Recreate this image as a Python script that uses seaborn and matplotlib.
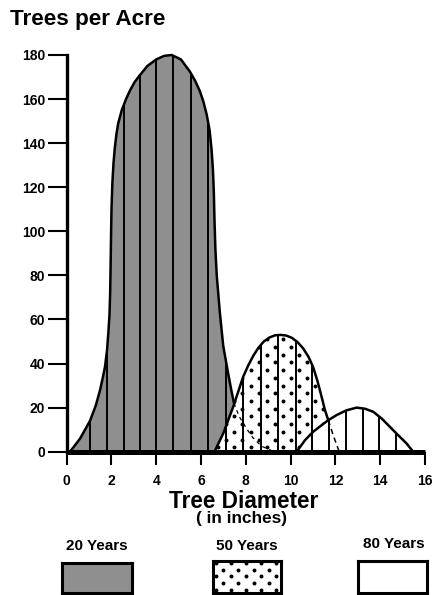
import numpy as np
import matplotlib
matplotlib.use("Agg")
import matplotlib.pyplot as plt
from matplotlib.patches import Polygon
import seaborn as sns

# ---- data ----
diam_20 = [0.15, 0.6, 1.04, 1.3, 1.49, 1.62, 1.71, 1.8, 1.86, 1.91, 1.94, 1.96, 1.98,
           2.0, 2.04, 2.09, 2.15, 2.22, 2.3, 2.46, 2.65, 2.83, 3.02, 3.24, 3.6, 4.0,
           4.35, 4.69, 5.1, 5.5, 5.75, 5.95, 6.1, 6.25, 6.38, 6.47, 6.53, 6.57, 6.6,
           6.64, 6.7, 6.84, 6.99, 7.21, 7.35, 7.47, 7.7, 8.0, 8.3, 8.7, 9.2]
trees_20 = [0, 6, 14, 21, 28, 34, 38.5, 46, 54, 62, 72, 84, 98,
            110, 122, 131, 138, 144, 149, 155, 160, 164, 167.5, 170.5, 175, 178,
            179.6, 180, 178, 172.5, 168, 163.5, 159, 153, 146, 137, 128, 118, 105,
            92, 80, 63, 48, 35.5, 28, 22, 16, 11, 6.5, 2.5, 0.3]
visible_20_until = 7.47

diam_50 = [6.6, 6.99, 7.44, 7.88, 8.1, 8.33, 8.55, 8.8, 9.05, 9.3, 9.55, 9.8, 10.05,
           10.3, 10.55, 10.8, 11.0, 11.2, 11.38, 11.53, 11.68, 11.9, 12.15]
trees_50 = [0, 8.3, 20.5, 34, 39, 43.5, 47, 50, 51.8, 52.8, 53, 52.7, 51.7,
            49.8, 47, 43, 38.5, 32, 25, 19, 14.3, 7.5, 0.5]
visible_50_until = 11.68

diam_80 = [10.27, 10.64, 11.0, 11.38, 11.68, 12.05, 12.5, 12.95, 13.32, 13.69, 14.06,
           14.43, 14.8, 15.18, 15.47]
trees_80 = [0, 5.2, 9, 12, 14.3, 16.6, 18.8, 20, 19.5, 18.1, 15.1, 11.3, 7.5, 3.7, 0]

stripe_x = [1.04, 1.8, 2.55, 3.27, 4.01, 4.76, 5.55, 6.3, 7.1, 7.88, 8.67, 9.45,
            10.22, 10.97, 11.72, 12.47, 13.21, 13.96, 14.72]

x_ticks = [0, 2, 4, 6, 8, 10, 12, 14, 16]
y_ticks = [0, 20, 40, 60, 80, 100, 120, 140, 160, 180]
legend_labels = ["20 Years", "50 Years", "80 Years"]

# ---- style ----
sns.set_theme(style="white")
plt.rcParams["font.family"] = ["Liberation Sans", "DejaVu Sans"]
plt.rcParams["font.weight"] = "bold"

GRAY = "#8f8f8f"
W, H = 434, 595
fig = plt.figure(figsize=(W / 100, H / 100), dpi=100)
fig.patch.set_facecolor("white")


def fx(px):
    return px / W


def fy(py):
    return 1 - py / H


x0, x1, ytop, ybot = 66.7, 425.0, 55.0, 451.7
ax = fig.add_axes([fx(x0), fy(ybot), fx(x1) - fx(x0), fy(ytop) - fy(ybot)])
ax.set_facecolor("white")
ax.set_xlim(0, 16)
ax.set_ylim(0, 180)


def area(xs, ys, face, z):
    pts = np.column_stack([xs, ys])
    pts = np.vstack([[xs[0], 0], pts, [xs[-1], 0]])
    poly = Polygon(pts, closed=True, facecolor=face, edgecolor="none", zorder=z)
    ax.add_patch(poly)
    return poly


p20 = area(diam_20, trees_20, GRAY, 1)
p50 = area(diam_50, trees_50, "white", 2)
p80 = area(diam_80, trees_80, "white", 3)

# dot texture for the 50-year area
rows = np.arange(2.0, 60, 3.5)
dx, dy = [], []
for i, r in enumerate(rows):
    cols = np.arange(6.05 + (i % 2) * 0.36, 12.6, 0.72)
    dx.extend(cols)
    dy.extend([r] * len(cols))
dots = ax.scatter(dx, dy, s=8, color="black", linewidths=0, zorder=2.5)
dots.set_clip_path(p50)

# vertical stripes clipped to each area
for poly in (p20, p50, p80):
    vl = ax.vlines(stripe_x, 0, 180, color="black", linewidth=1.4, zorder=4)
    vl.set_clip_path(poly)

# outlines
d20 = np.array(diam_20); t20 = np.array(trees_20)
d50 = np.array(diam_50); t50 = np.array(trees_50)
m20 = d20 <= visible_20_until
m50 = d50 <= visible_50_until


def outline(xs, ys, lw, ls="-"):
    sns.lineplot(x=xs, y=ys, ax=ax, color="black", linewidth=lw, linestyle=ls,
                 estimator=None, sort=False, zorder=5)
    ax.lines[-1].set_clip_on(False)
    ax.lines[-1].set_solid_capstyle("round")
    ax.lines[-1].set_solid_joinstyle("round")


outline(d20[m20], t20[m20], 1.8)
outline(d20[d20 >= visible_20_until], t20[d20 >= visible_20_until], 0.9, (0, (3, 3)))
outline(d50[m50], t50[m50], 1.8)
outline(d50[d50 >= visible_50_until], t50[d50 >= visible_50_until], 1.1, (0, (3.5, 2.5)))
outline(np.array(diam_80), np.array(trees_80), 1.8)

# axes styling
for s in ("top", "right"):
    ax.spines[s].set_visible(False)
ax.spines["left"].set_linewidth(2.4)
ax.spines["bottom"].set_linewidth(3.6)
ax.spines["left"].set_color("black")
ax.spines["bottom"].set_color("black")
ax.spines["left"].set_zorder(10)
ax.spines["bottom"].set_zorder(10)
ax.spines["bottom"].set_capstyle("butt")

ax.set_xticks(x_ticks)
ax.set_yticks(y_ticks)
ax.set_xticklabels([str(v) for v in x_ticks], fontsize=10, fontweight="bold")
ax.set_yticklabels([str(v) for v in y_ticks], fontsize=10, fontweight="bold")
ax.tick_params(axis="y", which="major", direction="out", length=13.5, width=1.5,
               pad=2, left=True, color="black", labelcolor="black")
ax.tick_params(axis="x", which="major", direction="out", length=9.5, width=1.5,
               pad=6.5, bottom=True, color="black", labelcolor="black")
ax.grid(False)
ax.set_xlabel("")
ax.set_ylabel("")

# texts
fig.text(fx(10), fy(25.5), "Trees per Acre", fontsize=16.2, fontweight="bold",
         ha="left", va="baseline", color="black")
fig.text(fx(244), fy(508), "Tree Diameter", fontsize=16.3, fontweight="bold",
         ha="center", va="baseline", color="black")
fig.text(fx(242), fy(523.5), "( in inches)", fontsize=12.3, fontweight="bold",
         ha="center", va="baseline", color="black")

# legend
label_cx = [96.7, 246.7, 394.0]
label_base = [550, 550, 548]
boxes = [(62.5, 131.8, 563.2, 592.5), (212.5, 281.2, 560.8, 592.5), (357.5, 426.8, 560.8, 592.5)]
faces = [GRAY, "white", "white"]
for i, lab in enumerate(legend_labels):
    fig.text(fx(label_cx[i]), fy(label_base[i]), lab, fontsize=11, fontweight="bold",
             ha="center", va="baseline", color="black")
    l, r, t, b = boxes[i]
    bax = fig.add_axes([fx(l), fy(b), fx(r) - fx(l), fy(t) - fy(b)])
    bax.set_facecolor(faces[i])
    bax.set_xlim(0, r - l)
    bax.set_ylim(0, b - t)
    bax.set_xticks([])
    bax.set_yticks([])
    for sp in bax.spines.values():
        sp.set_visible(True)
        sp.set_linewidth(2.2)
        sp.set_color("black")
    if i == 1:
        lx, ly = [], []
        for j, yy in enumerate(np.arange(2.5, b - t, 6.8)):
            xs = np.arange(3.0 + (j % 2) * 7.6, r - l, 15.2)
            lx.extend(xs)
            ly.extend([yy] * len(xs))
        bax.scatter(lx, ly, s=8, color="black", linewidths=0)

fig.savefig("out.png", dpi=100, facecolor="white")
